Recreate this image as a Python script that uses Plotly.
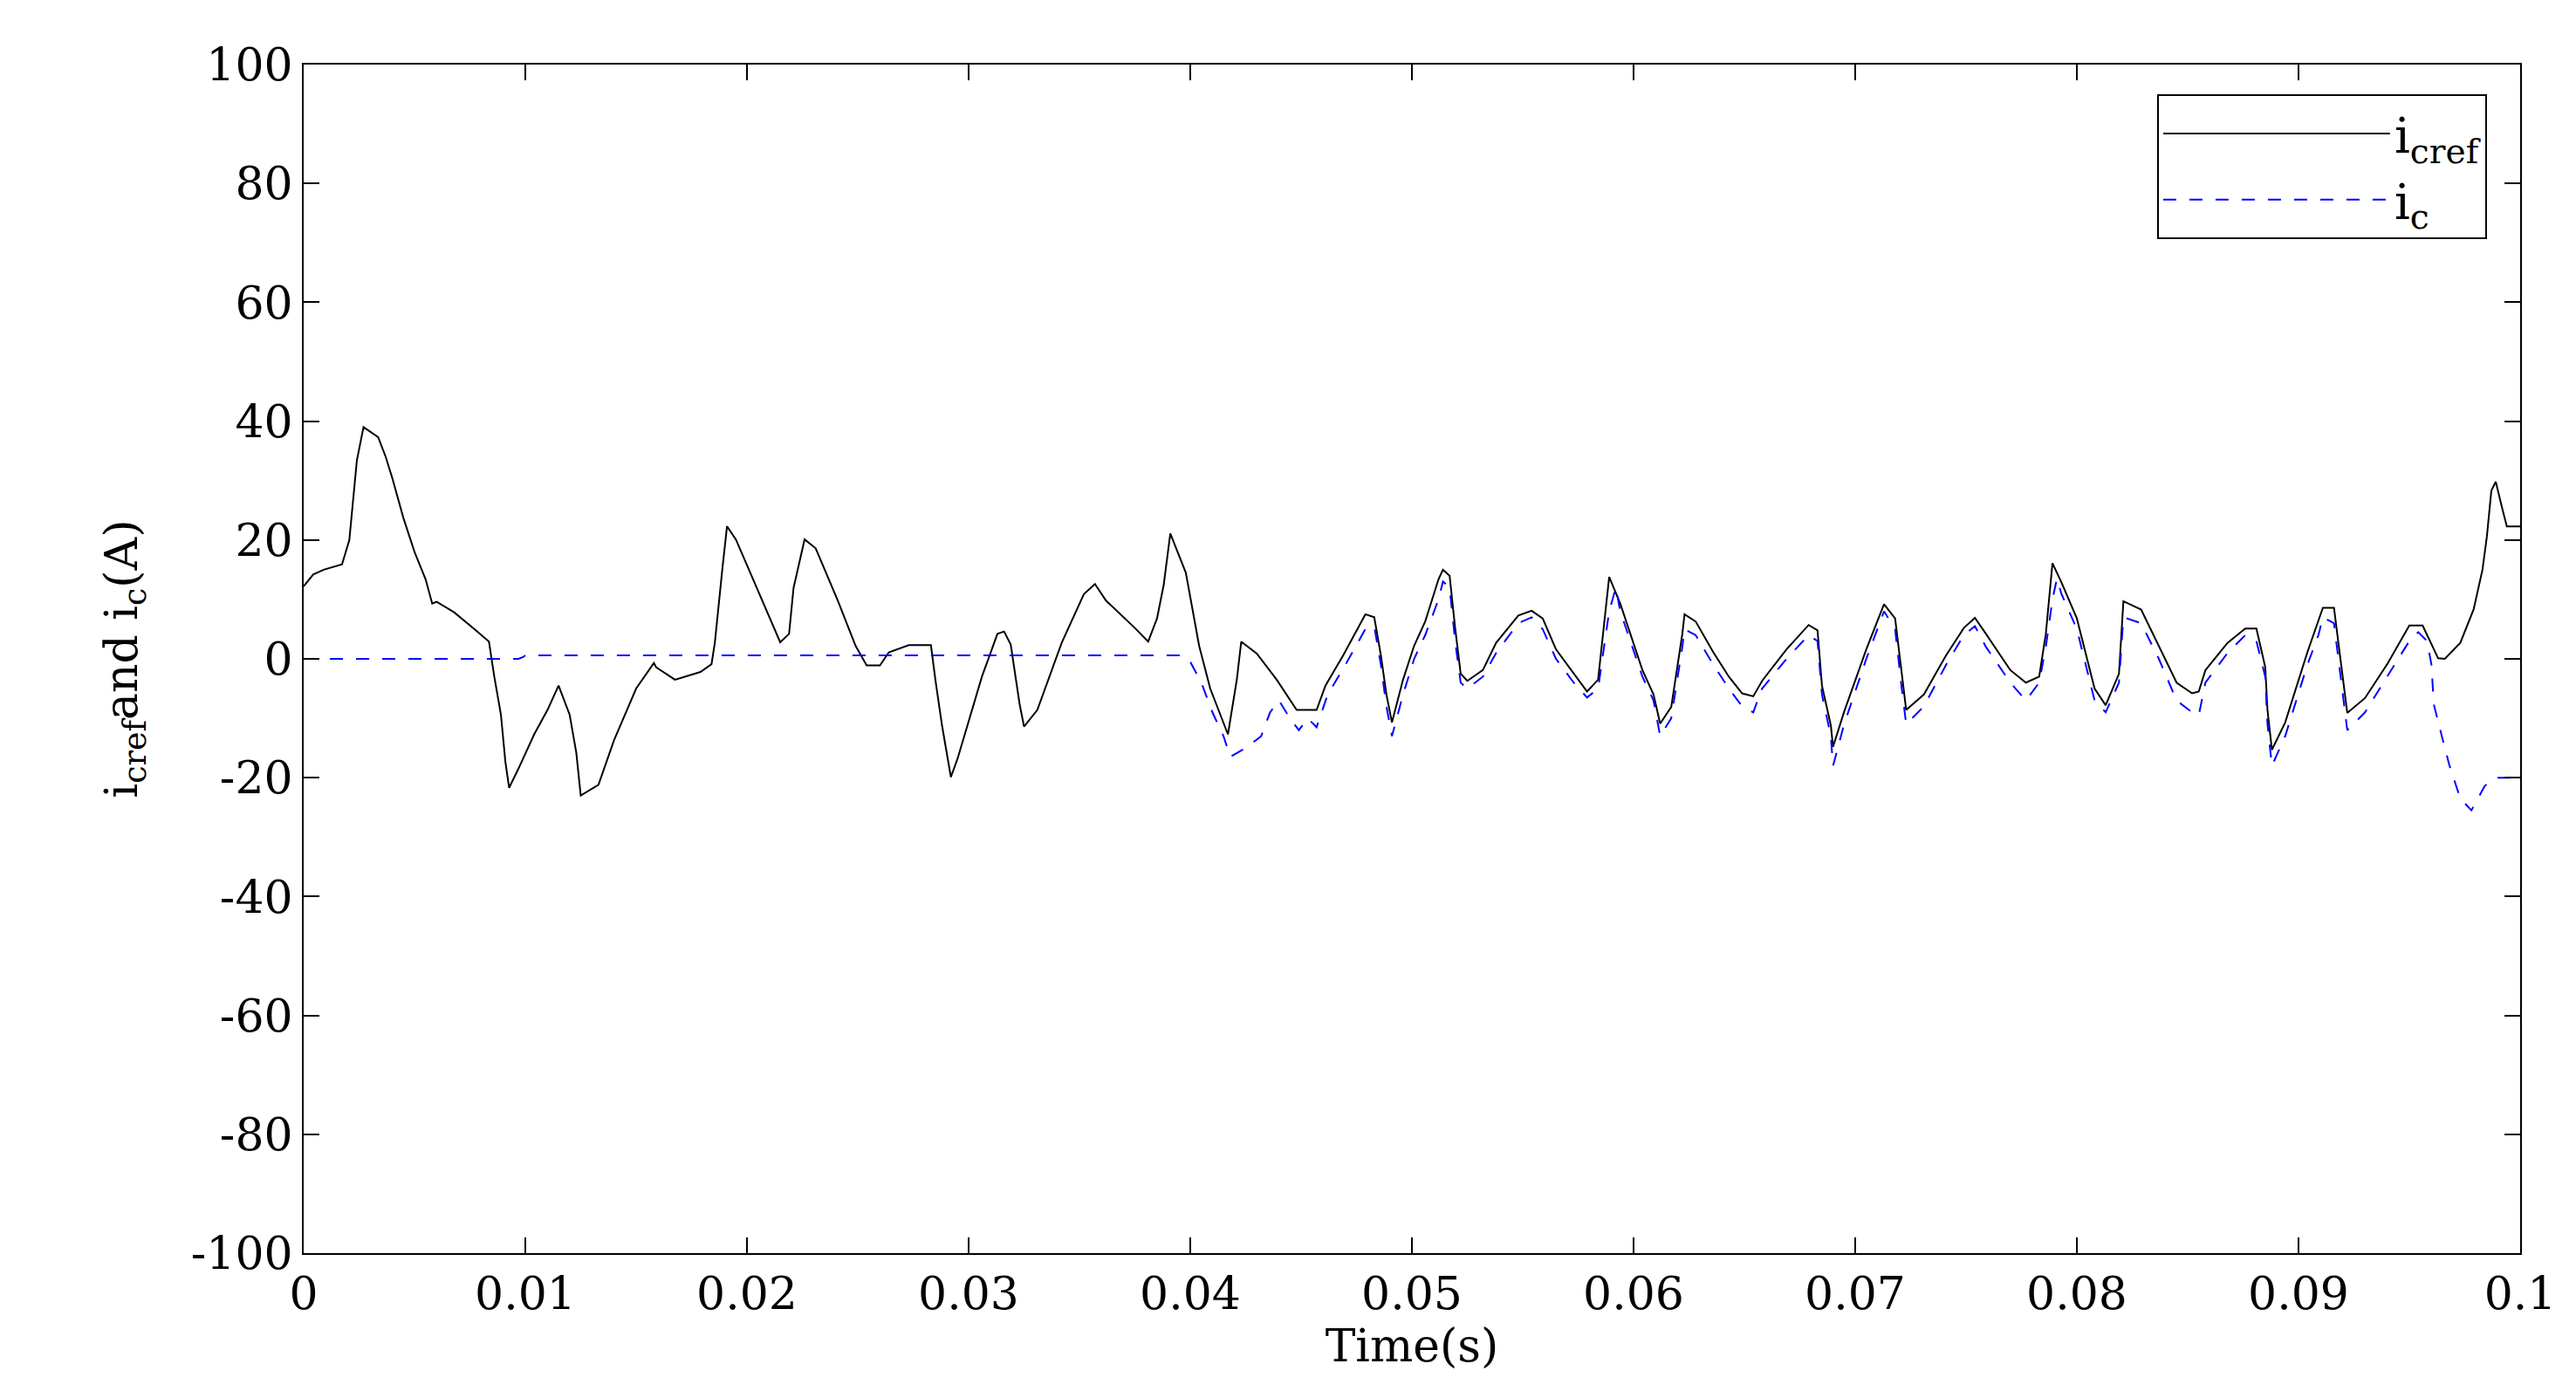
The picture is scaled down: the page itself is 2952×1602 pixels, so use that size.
import plotly.graph_objects as go

# i_cref breakpoints (time in ms, current in A)
t_cref = [0, 0.43, 0.9, 1.73, 2.06, 2.2, 2.4, 2.7, 3.36, 3.7, 4.0, 4.5, 5.0, 5.5, 5.8, 6.0,
          6.8, 7.8, 8.36, 8.6, 8.9, 9.1, 9.27, 9.7, 10.4, 11.0, 11.5, 12.0, 12.3, 12.5,
          13.3, 14, 15, 15.8, 15.9, 16.75, 17.9, 18.4, 18.55, 18.9, 19.1, 19.5, 20.5,
          21.3, 21.5, 21.9, 22.1, 22.6, 23.1, 24.1, 24.9, 25.4, 26, 26.4, 27.3, 28.3,
          28.5, 28.8, 29.2, 29.5, 30.6, 31.3, 31.6, 31.9, 32.3, 32.5, 33.1, 34.2, 35.2,
          35.7, 36.2, 37.5, 38.1, 38.5, 38.8, 39.1, 39.8, 40.4, 40.9, 41.7, 42.1, 42.3,
          43.0, 43.9, 44.7, 44.8, 45.7, 46.1, 46.9, 47.9, 48.3, 48.6, 48.85, 49.1, 49.6,
          50.1, 50.6, 51.2, 51.4, 51.7, 51.95, 52.2, 52.5, 53.2, 53.8, 54.8, 55.4, 55.9,
          56.5, 57.3, 57.9, 58.4, 58.7, 58.9, 59.4, 60.4, 60.9, 61.2, 61.7, 62.2, 62.3,
          62.8, 63.6, 64.3, 64.9, 65.4, 65.8, 66.9, 67.9, 68.3, 68.5, 68.9, 69.0, 69.5,
          70.5, 71.3, 71.8, 72.1, 72.3, 73.1, 74.1, 74.9, 75.4, 75.9, 77.0, 77.7, 78.3,
          78.6, 78.9, 79.3, 80, 80.8, 81.3, 81.9, 82.1, 82.9, 83.7, 84.5, 85.2, 85.5,
          85.8, 86.8, 87.6, 88.1, 88.5, 88.6, 88.8, 89.4, 90.4, 90.9, 91.1, 91.6, 91.9,
          92.2, 93.0, 94.0, 95.0, 95.6, 96.3, 96.6, 97.3, 97.9, 98.3, 98.5, 98.7, 98.9,
          99.2, 99.4, 100]
i_cref = [12.2, 14.2, 15, 15.9, 20, 25.7, 33.4, 39, 37.3, 34, 30.4, 23.7, 18, 13.4, 9.3, 9.6,
          7.8, 4.7, 2.9, -3, -9.4, -17.3, -21.7, -18.4, -12.7, -8.6, -4.5, -9.4, -15.8, -23,
          -21.2, -13.7, -5, -0.7, -1.4, -3.5, -2.2, -0.9, 2.7, 15.5, 22.3, 20.1, 11.4,
          4.7, 2.8, 4.2, 11.9, 20.1, 18.6, 9.8, 2.2, -1.1, -1.1, 1.1, 2.3, 2.3,
          -3.5, -11.2, -19.9, -16.8, -3, 4.2, 4.6, 2.4, -7.6, -11.4, -8.6, 2.7, 10.9,
          12.6, 9.8, 5.2, 2.9, 6.8, 12.4, 21.1, 14.5, 2.2, -5, -12.7, -3.5, 2.9,
          0.9, -3.5, -8.1, -8.6, -8.6, -4.5, 0.6, 7.5, 7, 0.6, -6, -10.7, -3.5,
          2.2, 6.3, 13.4, 15, 14, 5.2, -2.5, -3.7, -1.9, 2.7, 7.3, 8.1, 6.8,
          1.6, -2.5, -5.5, -3.5, 6.3, 13.8, 9.3, -1.9, -6, -10.9, -8.1, 4.2, 7.5,
          6.3, 1.1, -3, -5.8, -6.3, -3.7, 1.6, 5.7, 4.8, -4.5, -11.2, -14.8, -8.9,
          1.6, 9.2, 6.8, -3, -8.6, -6, 0.6, 5.2, 6.9, 4.2, -1.9, -4, -3,
          4.2, 16.1, 12.9, 6.8, -5, -7.8, -2.5, 9.7, 8.3, 2.2, -4, -5.8, -5.5,
          -1.9, 2.7, 5.1, 5.1, -1.4, -8.6, -15.3, -10.7, 1.1, 6.3, 8.6, 8.6, 0.1,
          -9.1, -6.6, -0.9, 5.6, 5.6, 0.1, 0, 2.7, 8.3, 15, 20.6, 28.3, 29.8,
          25.2, 22.3, 22.3]

# i_c breakpoints
t_c = [0, 9.7, 9.9, 10.0, 39.6, 40.0, 40.5, 41, 41.5, 41.8, 42.5, 43.2, 43.6, 44, 44.5, 44.9,
       45.3, 45.7, 46.2, 47, 47.9, 48.3, 48.6, 48.85, 49.1, 49.6, 50.1, 50.6, 51.2, 51.4,
       51.7, 51.95, 52.2, 52.5, 53.2, 53.8, 54.8, 55.4, 55.9, 56.5, 57.3, 57.9, 58.4, 58.7,
       58.9, 59.2, 59.4, 60.4, 60.9, 61.2, 61.7, 62.2, 62.3, 62.8, 63.6, 64.3, 64.9, 65.4,
       65.8, 66.9, 67.9, 68.3, 68.5, 68.9, 69.0, 69.5, 70.5, 71.3, 71.8, 72.1, 72.3, 73.1,
       74.1, 74.9, 75.4, 75.9, 77, 77.7, 78.3, 78.6, 78.9, 79.1, 79.3, 80, 80.8, 81.3, 81.9,
       82.1, 82.9, 83.7, 84.5, 85.2, 85.5, 85.8, 86.8, 87.6, 88.1, 88.5, 88.6, 88.8, 89.4,
       90.4, 90.9, 91.1, 91.6, 91.9, 92.2, 93.0, 94.0, 95.0, 95.4, 95.8, 96, 96.1, 96.5,
       96.8, 97.3, 97.8, 98.4, 98.9, 99.4, 100]
i_c = [0, 0, 0.3, 0.6, 0.6, -0.5, -4, -9, -13, -16.5, -15, -13, -9, -7, -10, -12,
       -10, -11.5, -6, -1, 5, 5.5, -1, -8, -13, -6, 0, 4, 10, 13,
       12, 3, -4, -5, -3, 1, 6, 7, 5, 0, -4, -6.5, -5, 3,
       8, 12, 8, -3, -7, -13, -10, 2, 5, 4, -1, -5, -8, -9,
       -5, 0, 4, 3, -6, -13, -18, -11, 0, 8, 5, -5, -11, -8,
       -1, 4, 5.5, 2, -4, -7, -4, 2, 10, 13.5, 11, 5, -7, -9, -4,
       7, 6, 0, -7, -9, -9.5, -4, 1, 4, 3, -3, -11, -18, -13,
       -1, 4, 7, 6, -3, -12, -9, -3, 3, 4.5, 3, -1, -7.6, -13.5,
       -17.8, -23.5, -25.5, -21.4, -20, -20, -20]

x_ticks = [0, 0.01, 0.02, 0.03, 0.04, 0.05, 0.06, 0.07, 0.08, 0.09, 0.1]
x_labels = ["0", "0.01", "0.02", "0.03", "0.04", "0.05", "0.06", "0.07", "0.08", "0.09", "0.1"]
y_ticks = [-100, -80, -60, -40, -20, 0, 20, 40, 60, 80, 100]
y_labels = ["-100", "-80", "-60", "-40", "-20", "0", "20", "40", "60", "80", "100"]

font = "DejaVu Serif, Liberation Serif, serif"

fig = go.Figure()
fig.add_trace(go.Scatter(x=[t / 1000 for t in t_cref], y=i_cref, mode="lines",
                         name="i<sub>cref</sub>", line=dict(color="black", width=2)))
fig.add_trace(go.Scatter(x=[t / 1000 for t in t_c], y=i_c, mode="lines",
                         name="i<sub>c</sub>", line=dict(color="blue", width=2, dash="longdash")))

axis_common = dict(showgrid=False, zeroline=False, showline=True, linecolor="black",
                   linewidth=2, mirror="allticks", ticks="inside", ticklen=18,
                   tickwidth=2, tickcolor="black",
                   tickfont=dict(family=font, size=52, color="black"))
fig.update_xaxes(range=[0, 0.1], tickvals=x_ticks, ticktext=x_labels,
                 title=dict(text="Time(s)", font=dict(family=font, size=52), standoff=2),
                 **axis_common)
fig.update_yaxes(range=[-100, 100], tickvals=y_ticks, ticktext=y_labels,
                 title=dict(text="i<sub>cref</sub>and i<sub>c</sub>(A)",
                            font=dict(family=font, size=52), standoff=45),
                 **axis_common)
fig.update_layout(
    width=2952, height=1602,
    plot_bgcolor="white", paper_bgcolor="white",
    margin=dict(l=340, r=72, t=66, b=174),
    font=dict(family=font, color="black"),
    legend=dict(x=0.985, y=0.975, xanchor="right", yanchor="top",
                bordercolor="black", borderwidth=2, bgcolor="white",
                font=dict(family=font, size=56), itemwidth=260,
                tracegroupgap=10),
)
fig.write_html("out.html")
